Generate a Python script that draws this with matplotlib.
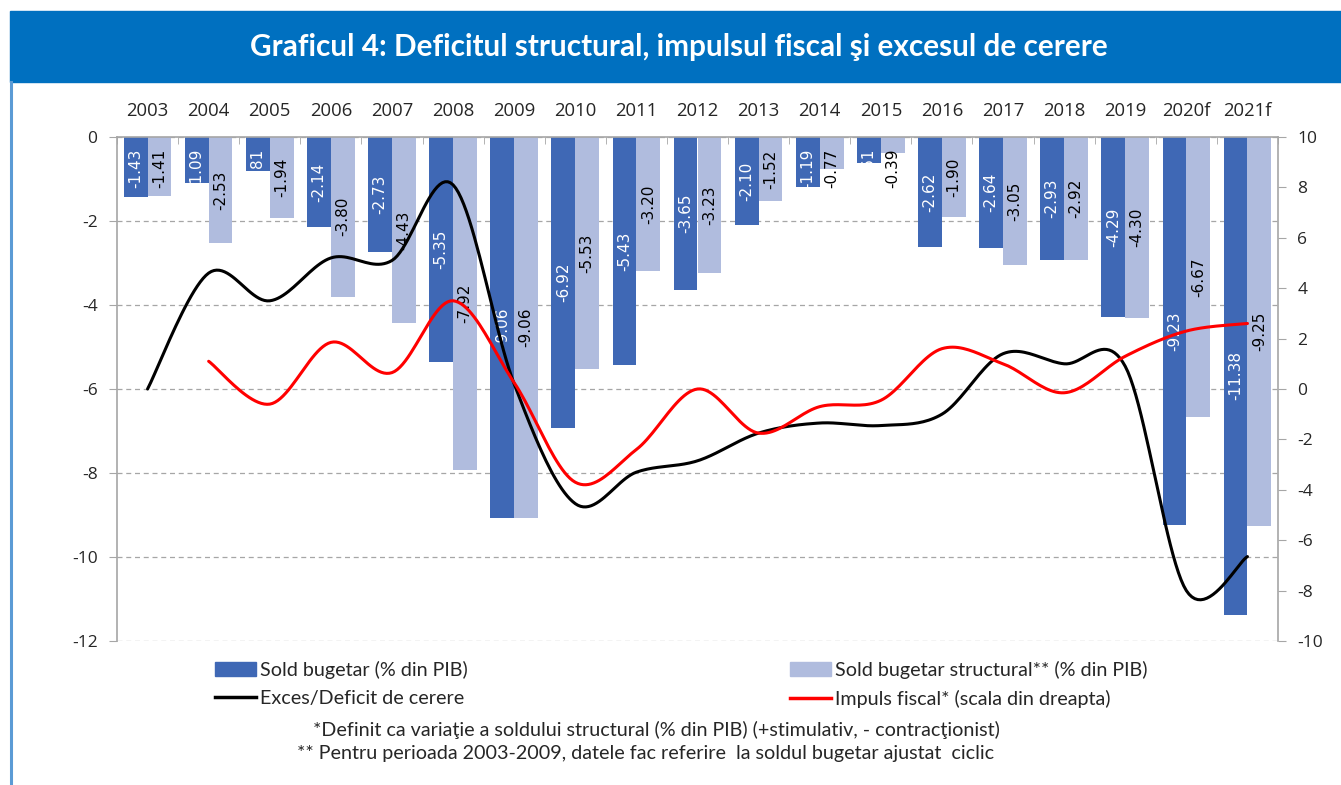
import numpy as np
import matplotlib
matplotlib.use("Agg")
import matplotlib.pyplot as plt
from matplotlib.patches import Rectangle, Patch
from matplotlib.lines import Line2D

# --- Data ---
years = ["2003", "2004", "2005", "2006", "2007", "2008", "2009", "2010", "2011", "2012",
         "2013", "2014", "2015", "2016", "2017", "2018", "2019", "2020f", "2021f"]
sold_bugetar = [-1.43, -1.09, -0.81, -2.14, -2.73, -5.35, -9.06, -6.92, -5.43, -3.65,
                -2.10, -1.19, -0.61, -2.62, -2.64, -2.93, -4.29, -9.23, -11.38]
sold_structural = [-1.41, -2.53, -1.94, -3.80, -4.43, -7.92, -9.06, -5.53, -3.20, -3.23,
                   -1.52, -0.77, -0.39, -1.90, -3.05, -2.92, -4.30, -6.67, -9.25]
# excess / deficit of demand (right scale), from 2003
exces_cerere = [0.0, 4.6, 3.5, 5.2, 5.1, 8.1, 0.2, -4.55, -3.3, -2.85,
                -1.75, -1.35, -1.45, -1.0, 1.4, 1.0, 0.9, -8.0, -6.65]
# fiscal impulse (right scale), from 2004
impuls_fiscal = [1.1, -0.6, 1.85, 0.65, 3.5, 0.25, -3.7, -2.4, 0.0,
                 -1.75, -0.7, -0.45, 1.6, 1.0, -0.15, 1.3, 2.3, 2.6]

DARK = "#3F68B5"
LIGHT = "#B0BCDE"
GRID = "#A6A6A6"
TXT = "#262626"
FONT = ["Lato", "DejaVu Sans"]


def smooth(xs, ys, n=24):
    # Excel-like smoothed line (Bezier / Catmull-Rom through the points)
    xs = np.asarray(xs, float)
    ys = np.asarray(ys, float)
    px = np.concatenate([[xs[0]], xs, [xs[-1]]])
    py = np.concatenate([[ys[0]], ys, [ys[-1]]])
    outx, outy = [], []
    t = np.linspace(0, 1, n)
    for i in range(1, len(px) - 2):
        for p, out in ((px, outx), (py, outy)):
            p0, p1, p2, p3 = p[i - 1], p[i], p[i + 1], p[i + 2]
            c1 = p1 + (p2 - p0) / 6
            c2 = p2 - (p3 - p1) / 6
            out.extend((1 - t) ** 3 * p1 + 3 * (1 - t) ** 2 * t * c1
                       + 3 * (1 - t) * t ** 2 * c2 + t ** 3 * p2)
    return np.array(outx), np.array(outy)


fig = plt.figure(figsize=(13.41, 7.85), dpi=100)

# title banner and left border
fig.patches.append(Rectangle((10 / 1341, 1 - 82 / 785), 1, 71 / 785, transform=fig.transFigure,
                             color="#0070C0", zorder=0))
fig.add_artist(Line2D([11 / 1341, 11 / 1341], [0, 1 - 82 / 785], transform=fig.transFigure,
                      color="#5B9BD5", lw=2.2))
fig.text(679 / 1341, 1 - 47 / 785,
         "Graficul 4: Deficitul structural, impulsul fiscal şi excesul de cerere",
         ha="center", va="center", color="white", fontsize=21.4, fontweight="bold", family=FONT)

ax = fig.add_axes([117 / 1341, 1 - 641 / 785, 1161 / 1341, 504 / 785])
x = np.arange(len(years))
w = 0.39
ax.bar(x - w / 2, sold_bugetar, w, color=DARK, zorder=2)
ax.bar(x + w / 2, sold_structural, w, color=LIGHT, zorder=2)

ax.set_xlim(-0.5, len(years) - 0.5)
ax.set_ylim(-12, 0)
ax.set_yticks(np.arange(-12, 1, 2))
ax.set_yticklabels([str(v) for v in range(-12, 1, 2)], family="Open Sans", fontsize=12.5, color=TXT)
ax.yaxis.grid(True, color=GRID, linestyle=(0, (4, 3)), lw=0.9)
ax.set_axisbelow(True)
ax.tick_params(axis="y", length=6, color=GRID, pad=8)

ax.xaxis.tick_top()
ax.set_xticks(x)
ax.set_xticklabels(years, family="Open Sans", fontsize=13.3, color=TXT)
ax.set_xticks(np.arange(-0.5, len(years)), minor=True)
ax.tick_params(axis="x", which="major", length=0, pad=12)
ax.tick_params(axis="x", which="minor", direction="in", length=5, color=GRID, top=True, bottom=False)
for s in ["bottom", "right"]:
    ax.spines[s].set_visible(False)
for s in ["top", "left"]:
    ax.spines[s].set_color(GRID)
    ax.spines[s].set_linewidth(1.2)

# bar value labels (centered, kept inside the plot top)
for xi, v in zip(x, sold_bugetar):
    ax.text(xi - w / 2, min(v / 2, -0.74), f"{v:.2f}", rotation=90, ha="center", va="center",
            color="white", fontsize=11, zorder=5)
for xi, v in zip(x, sold_structural):
    ax.text(xi + w / 2, min(v / 2, -0.74), f"{v:.2f}", rotation=90, ha="center", va="center",
            color="black", fontsize=11, zorder=5)

ax2 = ax.twinx()
ax2.set_ylim(-10, 10)
ax2.set_yticks(np.arange(-10, 11, 2))
ax2.set_yticklabels([str(v) for v in range(-10, 11, 2)], family="Open Sans", fontsize=12.5, color=TXT)
ax2.tick_params(axis="y", length=6, color=GRID, pad=8)
for s in ["top", "bottom", "left"]:
    ax2.spines[s].set_visible(False)
ax2.spines["right"].set_color(GRID)
ax2.spines["right"].set_linewidth(1.2)

sx, sy = smooth(x, exces_cerere)
ax2.plot(sx, sy, color="black", lw=2.2, solid_capstyle="round", zorder=3)
sx, sy = smooth(x[1:], impuls_fiscal)
ax2.plot(sx, sy, color="#FF0000", lw=2.2, solid_capstyle="round", zorder=3)

# legend
leg_font = {"family": FONT, "size": 14.2}
kw = dict(frameon=False, prop=leg_font, handlelength=2.1, handletextpad=0.2,
          labelspacing=0.55, borderaxespad=0, borderpad=0)
leg1 = fig.legend([Patch(color=DARK), Line2D([], [], color="black", lw=2.5)],
                  ["Sold bugetar (% din PIB)", "Exces/Deficit de cerere"],
                  loc="upper left", bbox_to_anchor=(215 / 1341, 1 - 661 / 785), **kw)
leg2 = fig.legend([Patch(color=LIGHT), Line2D([], [], color="red", lw=2.5)],
                  ["Sold bugetar structural** (% din PIB)", "Impuls fiscal* (scala din dreapta)"],
                  loc="upper left", bbox_to_anchor=(790 / 1341, 1 - 661 / 785), **kw)
for leg in (leg1, leg2):
    for t in leg.get_texts():
        t.set_color(TXT)

fig.text(313 / 1341, 1 - 730 / 785,
         "*Definit ca variaţie a soldului structural (% din PIB) (+stimulativ, - contracţionist)",
         ha="left", va="center", color=TXT, fontsize=14.2, family=FONT)
fig.text(297 / 1341, 1 - 753 / 785,
         "** Pentru perioada 2003-2009, datele fac referire  la soldul bugetar ajustat  ciclic",
         ha="left", va="center", color=TXT, fontsize=14.2, family=FONT)

fig.savefig("out.png", dpi=100)
